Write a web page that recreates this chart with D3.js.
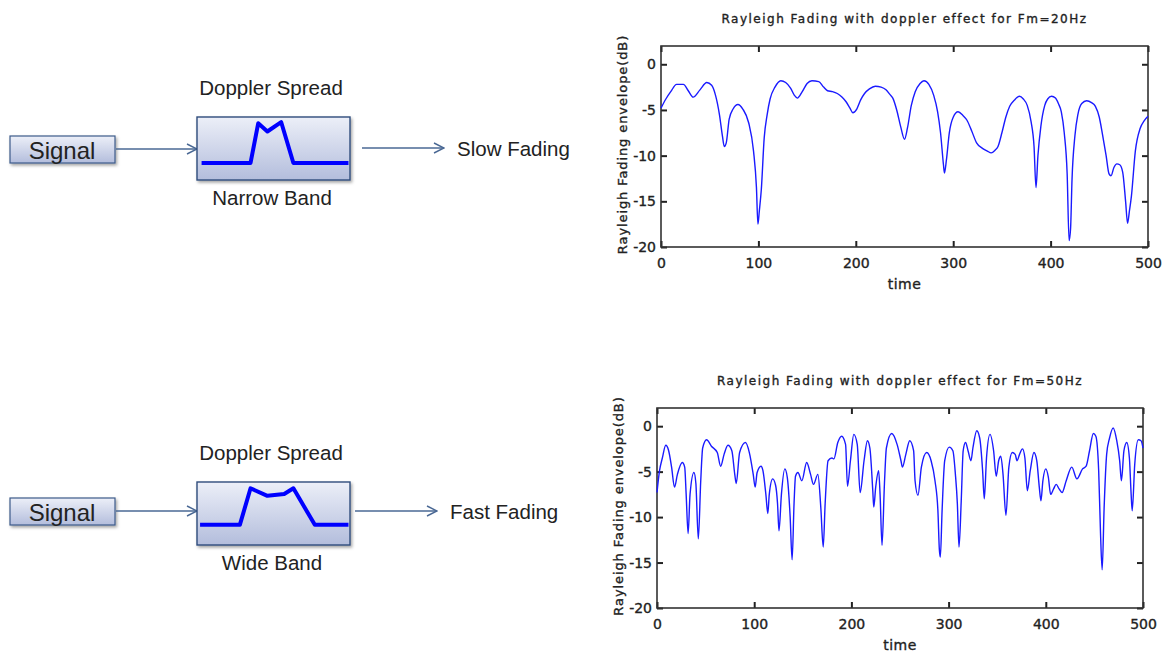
<!DOCTYPE html>
<html>
<head>
<meta charset="utf-8">
<script src="https://cdn.jsdelivr.net/npm/d3@7"></script>
<style>
  body { margin: 0; background: #fff; }
  svg { display: block; }
  .diag text { font-family: "Liberation Sans", Arial, sans-serif; fill: #222; }
  .plot text { font-family: "DejaVu Sans", sans-serif; fill: #222; stroke: #222; stroke-width: 0.35px; }
</style>
</head>
<body>
<svg id="chart" width="1164" height="654"></svg>
<script>
// fading envelope, Fm = 20Hz (time, dB)
var time20 = [0,5,10,16,23,28,33,40,47,52,56,60,63,65,67,70,74,79,84,90,95,98,99.5,101,103,106,109,112,117,123,128,133,137,140,145,150,155,162,167,171,176,181,186,190,194,197,201,205,209,214,220,226,231,235,238,242,246,250,253,257,261,266,270,275,280,284,287,290,291,293,296,300,305,310,314,319,324,330,335,339,343,346,350,354,358,363,368,372,376,380,383,385,387,390,394,397,401,405,408,411,414,417,419,420.5,422,425,428,432,437,442,446,450,453,457,460,462,465,468,471,474,477,479,481,483,487,492,496,500];
var fade20 = [-4.8,-3.8,-3.0,-2.2,-2.2,-2.9,-3.6,-2.8,-2.0,-2.3,-3.4,-5.5,-7.8,-9.0,-8.6,-6.0,-4.9,-4.4,-4.9,-6.4,-9.5,-13.5,-17.5,-16,-13.7,-8,-5.5,-3.8,-2.5,-1.8,-2.0,-2.6,-3.4,-3.7,-3.0,-2.1,-1.8,-1.9,-2.5,-2.9,-3.0,-3.2,-3.6,-4.1,-4.8,-5.3,-4.9,-3.9,-3.2,-2.7,-2.4,-2.5,-2.8,-3.3,-3.7,-5.0,-6.8,-8.2,-7.0,-4.5,-3.0,-2.1,-1.8,-2.2,-3.4,-5.2,-7.5,-11.0,-11.9,-10.5,-7.5,-5.8,-5.2,-5.6,-6.1,-7.3,-8.6,-9.2,-9.5,-9.7,-9.4,-9.0,-7.5,-5.8,-4.6,-3.9,-3.5,-3.8,-4.5,-6.3,-9.0,-13.5,-10,-6.8,-4.5,-3.8,-3.5,-3.7,-4.3,-5.2,-7.5,-12.0,-19.3,-18,-12.6,-7.8,-5.5,-4.3,-4.0,-4.2,-4.6,-5.8,-7.5,-10.0,-12.0,-12.2,-11.3,-10.9,-11.0,-11.8,-15.0,-17.4,-16.0,-14.4,-9.5,-7.0,-6.2,-5.7];

// fading envelope, Fm = 50Hz (time, dB)
var time50 = [0,2.6,5.5,9,12,15,18,21,26,28.5,30,32,34,38,40,42.5,45,47,51,56,62,65.5,69,73,77,80,81.5,85,91,95,99,101,103,107,109,112,114,115.5,119,122,124,125.5,128,131.5,134,137,139,141,142.5,145,149,154,158,161,165.5,168.5,171,173,176,180,182,186,190,194,196,199,202.5,206,209,213,216.5,219,222,223,225,228,229.5,231.5,234,236,241.5,247,251,252.5,256,260,264,265.5,268.5,272,277.5,282,286,289,290.5,291.5,293.3,296,300.7,304.4,307,309,310.7,313,315,317.4,320,323,325,329,332,335,336.7,339,342.6,346.3,349,351.5,353.7,356,359,362,365.5,368.5,370.4,373,376,378.5,381,384,387.8,390.7,393.3,395,397,400,402.6,405,408,410.7,413.7,416.7,421,426.7,432,437.8,441.5,445,448.9,451.5,454.4,456.3,458,460,462.6,465.6,469.3,473,476,477.8,480.4,483.3,486,487.8,488.9,491.5,495.2,498,500];
var fade50 = [-7.3,-4.9,-3.5,-2.1,-2.7,-4.5,-6.7,-5.3,-4.0,-4.5,-7.5,-11.8,-7.5,-5.1,-6.3,-12.4,-6.0,-2.4,-1.5,-2.2,-2.9,-4.4,-3.1,-2.1,-2.7,-5.3,-6.3,-2.9,-1.8,-2.9,-5.3,-6.7,-5.1,-4.4,-4.9,-7.5,-9.6,-7.5,-5.8,-6.5,-8.5,-11.5,-7.5,-4.7,-5.6,-10.0,-14.7,-8.5,-5.5,-5.1,-6.0,-4.0,-5.3,-6.4,-5.3,-8.9,-13.3,-8.5,-3.8,-3.5,-3.6,-1.8,-1.1,-2.0,-6.6,-3.8,-0.9,-2.0,-7.3,-3.8,-1.6,-2.4,-7.1,-8.9,-6.7,-4.9,-7.5,-13.1,-6.3,-2.4,-0.8,-2.0,-3.8,-4.5,-3.1,-1.6,-2.7,-6.0,-7.6,-4.5,-2.9,-3.8,-6.0,-9.3,-13.6,-14.4,-9.3,-3.8,-2.3,-2.7,-5.3,-8.5,-13.3,-8.2,-2.7,-1.8,-2.7,-3.8,-2.4,-0.5,-1.3,-4.9,-8.0,-3.5,-0.9,-2.7,-5.5,-3.8,-3.3,-5.3,-9.8,-4.5,-2.9,-3.1,-3.8,-3.1,-2.5,-3.5,-7.1,-4.9,-2.9,-3.8,-6.7,-8.2,-6.0,-4.7,-5.6,-7.5,-6.9,-6.4,-6.9,-7.3,-6.0,-4.5,-5.8,-4.7,-4.4,-2.7,-0.8,-1.1,-4.9,-11.8,-15.8,-9.0,-3.1,-1.3,-0.2,-1.6,-3.8,-6.0,-2.7,-1.8,-3.5,-7.5,-9.3,-4.2,-1.5,-1.6,-2.4];

var xTicks = [0, 100, 200, 300, 400, 500];
var yTicks = [0, -5, -10, -15, -20];

var svg = d3.select("#chart");

// gradients for the boxes
var defs = svg.append("defs");
var grad = defs.append("linearGradient").attr("id", "boxGrad")
  .attr("x1", 0).attr("y1", 0).attr("x2", 0).attr("y2", 1);
grad.append("stop").attr("offset", "0%").attr("stop-color", "#eceff8");
grad.append("stop").attr("offset", "100%").attr("stop-color", "#b3bddc");
var shadow = defs.append("filter").attr("id", "shadow")
  .attr("x", "-10%").attr("y", "-10%").attr("width", "130%").attr("height", "140%");
shadow.append("feDropShadow").attr("dx", 1.5).attr("dy", 2).attr("stdDeviation", 1.5)
  .attr("flood-color", "#000").attr("flood-opacity", 0.35);
var marker = defs.append("marker").attr("id", "arrow")
  .attr("viewBox", "0 0 12 12").attr("refX", 11).attr("refY", 6)
  .attr("markerWidth", 12).attr("markerHeight", 12).attr("markerUnits", "userSpaceOnUse")
  .attr("orient", "auto");
marker.append("path").attr("d", "M1,1 L11,6 L1,11")
  .attr("fill", "none").attr("stroke", "#4a6894").attr("stroke-width", 1.4);

// spectrum shapes (relative to the doppler box, 0..1)
var narrowShape = [[0.03, 0.73], [0.35, 0.73], [0.40, 0.10], [0.46, 0.23], [0.55, 0.08], [0.63, 0.73], [0.99, 0.73]];
var wideShape = [[0.02, 0.68], [0.28, 0.68], [0.35, 0.10], [0.46, 0.22], [0.57, 0.19], [0.63, 0.10], [0.77, 0.68], [0.99, 0.68]];

function drawDiagram(cfg) {
  var g = svg.append("g").attr("class", "diag");
  // signal box
  g.append("rect").attr("x", 10).attr("y", cfg.sigY).attr("width", 105).attr("height", 27)
    .attr("fill", "url(#boxGrad)").attr("stroke", "#3c5a8a").attr("stroke-width", 1.2)
    .attr("filter", "url(#shadow)");
  g.append("text").attr("x", 62).attr("y", cfg.sigY + 14).attr("dy", "0.36em")
    .attr("text-anchor", "middle").style("font-size", "24px").text("Signal");
  g.append("line").attr("x1", 116).attr("x2", 197).attr("y1", cfg.sigY + 13).attr("y2", cfg.sigY + 13)
    .attr("stroke", "#4a6894").attr("stroke-width", 1.4).attr("marker-end", "url(#arrow)");

  // doppler box
  var bx = 197, bw = 153, bh = 63, by = cfg.boxY;
  g.append("rect").attr("x", bx).attr("y", by).attr("width", bw).attr("height", bh)
    .attr("fill", "url(#boxGrad)").attr("stroke", "#2f4c7c").attr("stroke-width", 1.4)
    .attr("filter", "url(#shadow)");
  var sx = d3.scaleLinear().domain([0, 1]).range([bx, bx + bw]);
  var sy = d3.scaleLinear().domain([0, 1]).range([by, by + bh]);
  g.append("path").datum(cfg.shape)
    .attr("d", d3.line().x(function(d){ return sx(d[0]); }).y(function(d){ return sy(d[1]); }))
    .attr("fill", "none").attr("stroke", "#0000ff").attr("stroke-width", 4).attr("stroke-linejoin", "round");

  g.append("text").attr("x", 271).attr("y", by - 29).attr("dy", "0.36em")
    .attr("text-anchor", "middle").style("font-size", "20.5px").text("Doppler Spread");
  g.append("text").attr("x", 272).attr("y", by + bh + 18).attr("dy", "0.36em")
    .attr("text-anchor", "middle").style("font-size", "20.5px").text(cfg.band);

  g.append("line").attr("x1", cfg.outX).attr("x2", cfg.outX + 82).attr("y1", cfg.outY).attr("y2", cfg.outY)
    .attr("stroke", "#4a6894").attr("stroke-width", 1.4).attr("marker-end", "url(#arrow)");
  g.append("text").attr("x", cfg.outX + 95).attr("y", cfg.outY + 1).attr("dy", "0.36em")
    .style("font-size", "20.5px").text(cfg.result);
}

drawDiagram({ sigY: 136, boxY: 117, shape: narrowShape, band: "Narrow Band", outX: 362, outY: 148, result: "Slow Fading" });
drawDiagram({ sigY: 498, boxY: 482, shape: wideShape, band: "Wide Band", outX: 355, outY: 511, result: "Fast Fading" });

function drawPlot(cfg) {
  var g = svg.append("g").attr("class", "plot");
  var x = d3.scaleLinear().domain([0, 500]).range([cfg.left, cfg.right]);
  var y = d3.scaleLinear().domain([-20, 2]).range([cfg.bottom, cfg.top]);
  var tk = 6;
  var fmt = function(d){ return String(d); };

  g.append("g").attr("transform", "translate(0," + cfg.bottom + ")")
    .call(d3.axisBottom(x).tickValues(xTicks).tickSizeInner(-tk).tickSizeOuter(0).tickPadding(11).tickFormat(fmt));
  g.append("g").attr("transform", "translate(0," + cfg.top + ")")
    .call(d3.axisTop(x).tickValues(xTicks).tickSizeInner(-tk).tickSizeOuter(0).tickFormat(""));
  g.append("g").attr("transform", "translate(" + cfg.left + ",0)")
    .call(d3.axisLeft(y).tickValues(yTicks).tickSizeInner(-tk).tickSizeOuter(0).tickPadding(5).tickFormat(fmt));
  g.append("g").attr("transform", "translate(" + cfg.right + ",0)")
    .call(d3.axisRight(y).tickValues(yTicks).tickSizeInner(-tk).tickSizeOuter(0).tickFormat(""));

  g.selectAll(".domain").remove();
  g.selectAll(".tick line").attr("stroke", "#222").attr("stroke-width", 2);
  g.selectAll(".tick text").style("font-size", "14px").attr("fill", "#222");

  g.append("rect").attr("x", cfg.left).attr("y", cfg.top)
    .attr("width", cfg.right - cfg.left).attr("height", cfg.bottom - cfg.top)
    .attr("fill", "none").attr("stroke", "#333").attr("stroke-width", 1.6);

  var line = d3.line()
    .x(function(d, i){ return x(cfg.times[i]); })
    .y(function(d){ return y(d); })
    .curve(d3.curveMonotoneX);
  g.append("path").datum(cfg.values).attr("d", line)
    .attr("fill", "none").attr("stroke", "#1a1aff").attr("stroke-width", 1.4);

  var mid = (cfg.left + cfg.right) / 2;
  g.append("text").attr("x", mid).attr("y", cfg.top - 23).attr("text-anchor", "middle")
    .style("font-size", "12px").style("letter-spacing", "1.5px")
    .text(cfg.title);
  g.append("text").attr("x", mid).attr("y", cfg.bottom + 42).attr("text-anchor", "middle")
    .style("font-size", "14px").style("letter-spacing", "0.5px")
    .text("time");
  g.append("text").attr("transform", "translate(" + (cfg.left - 34) + "," + ((cfg.top + cfg.bottom) / 2 - 2) + ") rotate(-90)")
    .attr("text-anchor", "middle")
    .style("font-size", "13px").style("letter-spacing", "0.9px")
    .text("Rayleigh Fading envelope(dB)");
}

drawPlot({ left: 661, right: 1148, top: 46, bottom: 247, times: time20, values: fade20,
  title: "Rayleigh Fading with doppler effect for Fm=20Hz" });
drawPlot({ left: 657, right: 1143, top: 408, bottom: 608, times: time50, values: fade50,
  title: "Rayleigh Fading with doppler effect for Fm=50Hz" });
</script>
</body>
</html>
